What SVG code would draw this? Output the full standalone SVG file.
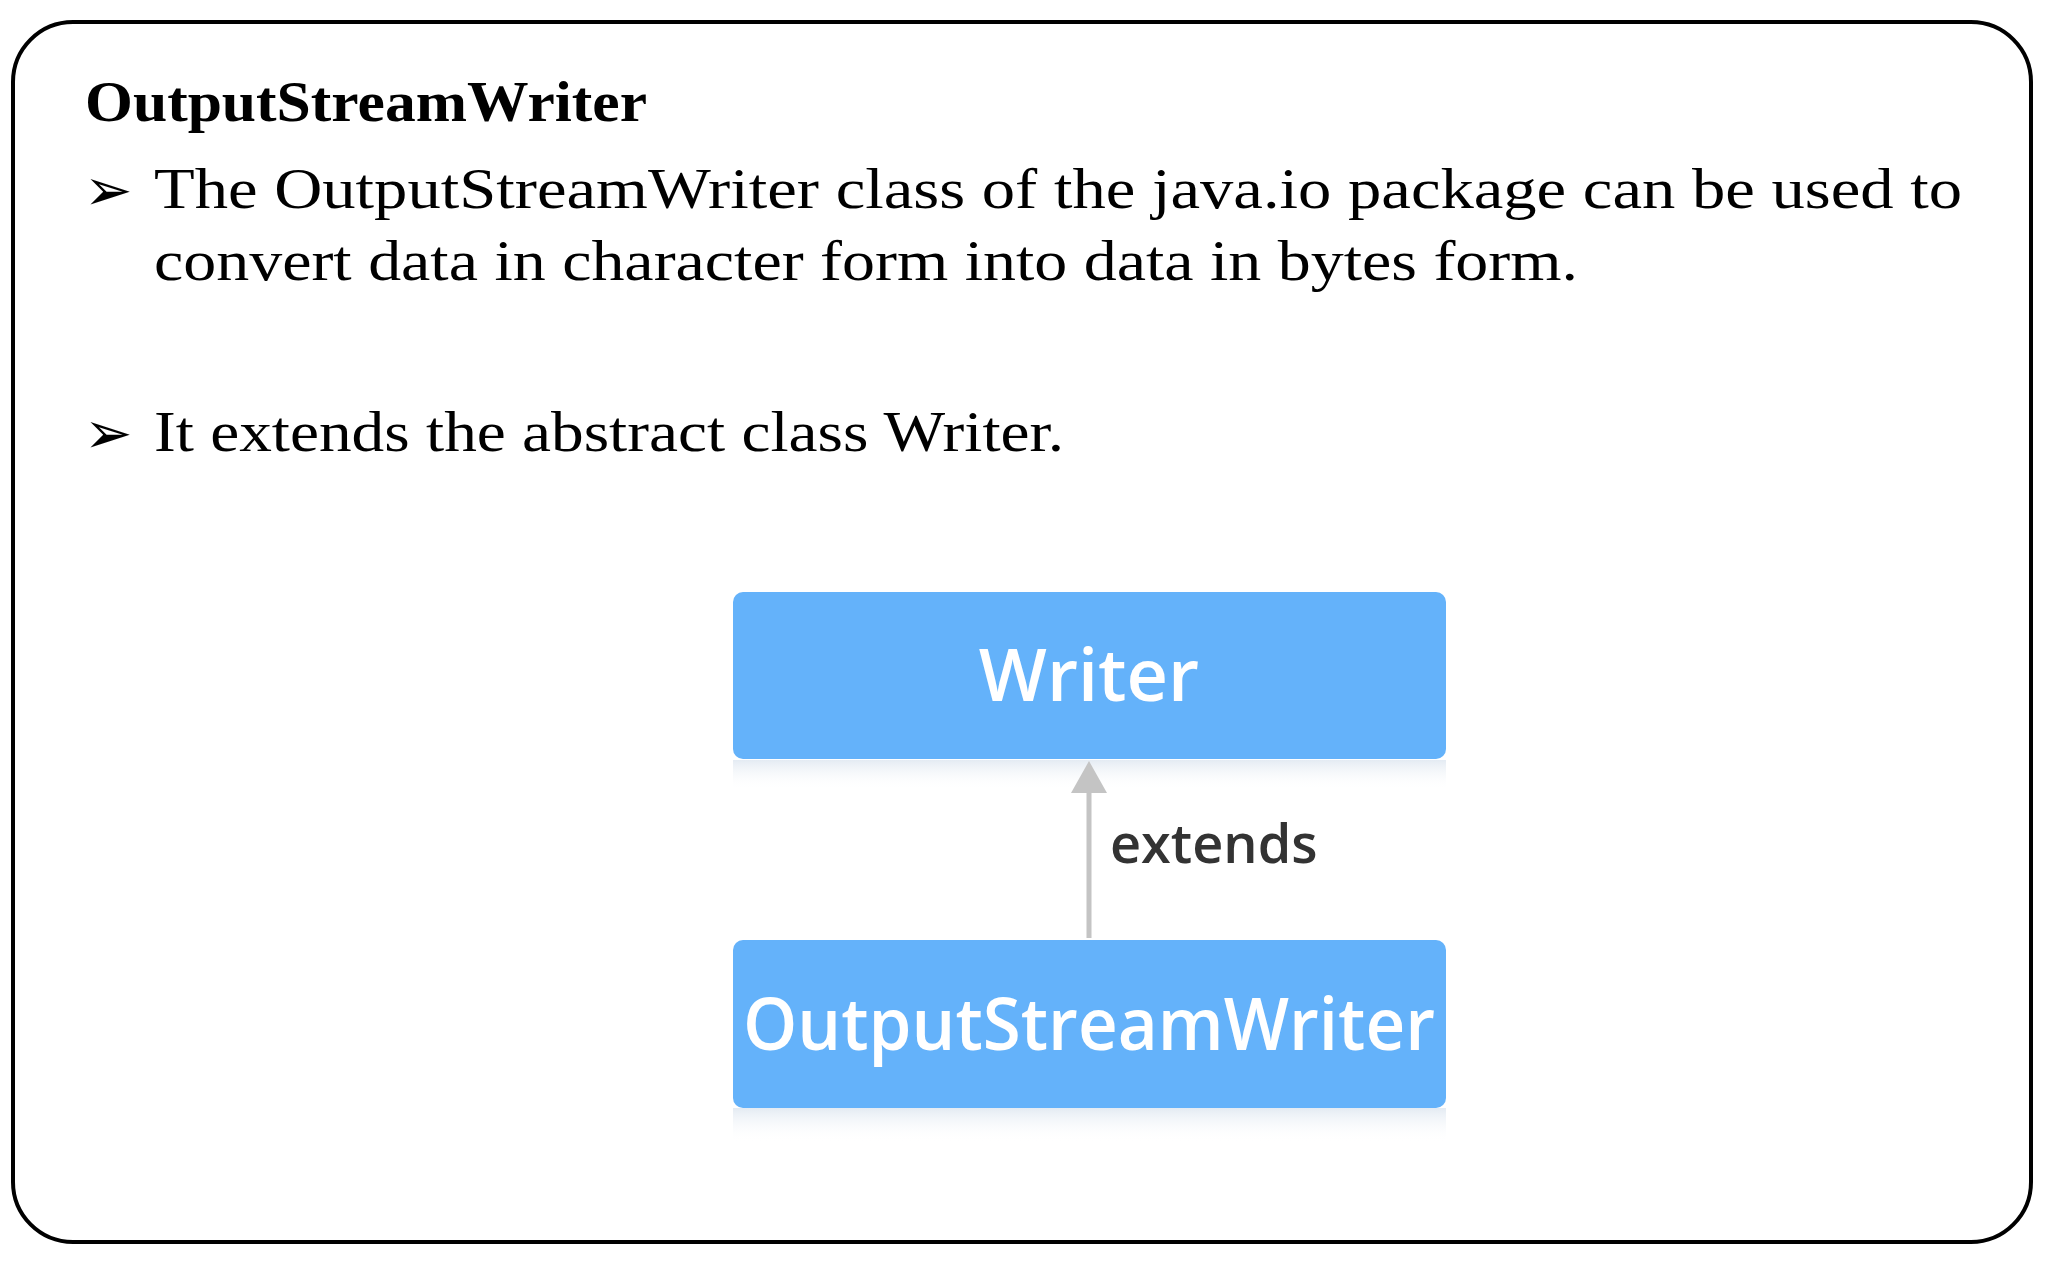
<svg xmlns="http://www.w3.org/2000/svg" width="2048" height="1270" viewBox="0 0 2048 1270">
<defs>
<style>
.serif{font-family:"Liberation Serif","DejaVu Serif",serif;fill:#000}
.node{fill:#64b2fa}
.nt{font-family:"Open Sans","Liberation Sans",sans-serif;font-weight:600;fill:#fff;text-anchor:middle}
</style>
<linearGradient id="sh" x1="0" y1="0" x2="0" y2="1"><stop offset="0" stop-color="#dde6f0" stop-opacity="0.8"/><stop offset="1" stop-color="#fff" stop-opacity="0"/></linearGradient>
</defs>
<rect width="2048" height="1270" fill="#fff"/>
<rect x="13" y="22" width="2018" height="1220" rx="60" fill="none" stroke="#000" stroke-width="4"/>
<g id="text">
<text class="serif" x="85" y="121" font-size="58" font-weight="bold" textLength="562" lengthAdjust="spacingAndGlyphs">OutputStreamWriter</text>
<text class="serif" x="84" y="210" font-size="58">➢</text>
<text class="serif" x="154" y="208" font-size="58" textLength="1808" lengthAdjust="spacingAndGlyphs">The OutputStreamWriter class of the java.io package can be used to</text>
<text class="serif" x="154" y="280" font-size="58" textLength="1424" lengthAdjust="spacingAndGlyphs">convert data in character form into data in bytes form.</text>
<text class="serif" x="84" y="453" font-size="58">➢</text>
<text class="serif" x="154" y="451" font-size="58" textLength="910" lengthAdjust="spacingAndGlyphs">It extends the abstract class Writer.</text>
</g>
<rect x="733" y="760" width="713" height="30" fill="url(#sh)"/>
<rect x="733" y="1108" width="713" height="34" fill="url(#sh)"/>
<g id="connectors">
<line x1="1089" y1="938" x2="1089" y2="785" stroke="#c4c4c4" stroke-width="5"/>
<polygon points="1089,761 1071,793 1107,793" fill="#c4c4c4"/>
<text x="1110" y="863" font-family="Open Sans,Liberation Sans,sans-serif" font-weight="600" font-size="54" fill="#333">extends</text>
</g>
<g id="writer">
<rect class="node" x="733" y="592" width="713" height="167" rx="10"/>
<text class="nt" x="1089" y="701" font-size="72">Writer</text>
</g>
<g id="osw">
<rect class="node" x="733" y="940" width="713" height="168" rx="10"/>
<text class="nt" x="1089" y="1050" font-size="72" textLength="692" lengthAdjust="spacingAndGlyphs">OutputStreamWriter</text>
</g>
</svg>
